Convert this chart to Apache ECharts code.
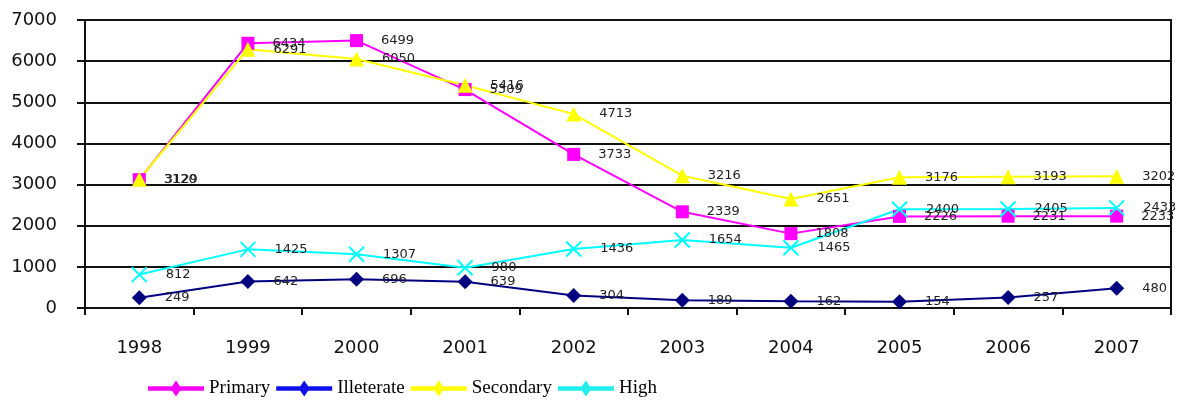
<!DOCTYPE html>
<html>
<head>
<meta charset="utf-8">
<style>
  html, body { margin: 0; padding: 0; background: #fff; }
  #chart { width: 1179px; height: 403px; }
</style>
<script src="https://cdn.jsdelivr.net/npm/echarts@6/dist/echarts.min.js"></script>
</head>
<body>
<div id="chart"></div>
<script>
// Years on the category axis
const years = ['1998', '1999', '2000', '2001', '2002', '2003', '2004', '2005', '2006', '2007'];

// Counts per education level
const primary    = [3120, 6434, 6499, 5309, 3733, 2339, 1808, 2226, 2231, 2233];
const illeterate = [249, 642, 696, 639, 304, 189, 162, 154, 257, 480];
const secondary  = [3129, 6291, 6050, 5416, 4713, 3216, 2651, 3176, 3193, 3202];
const high       = [812, 1425, 1307, 980, 1436, 1654, 1465, 2400, 2405, 2433];

// Value axis ticks
const yMin = 0, yMax = 7000, yStep = 1000;

// Legend icon: a thick line with a diamond in the middle
const legendIcon = 'path://M0,5.8H56V10.2H0Z M28,0L33.5,8L28,16L22.5,8Z';
const crossSymbol = 'path://M0,0L10,10M10,0L0,10';

const chart = echarts.init(document.getElementById('chart'), null, { renderer: 'canvas' });

const labelStyle = {
  show: true,
  position: 'right',
  distance: 18,
  fontFamily: 'DejaVu Sans',
  fontSize: 13,
  color: '#222'
};

function lineSeries(name, data, color, symbol, size, extraItemStyle) {
  return {
    name: name,
    type: 'line',
    data: data,
    symbol: symbol,
    symbolSize: size,
    showAllSymbol: true,
    lineStyle: { color: color, width: 2 },
    itemStyle: Object.assign({ color: color }, extraItemStyle || {}),
    label: labelStyle,
    emphasis: { disabled: true },
    animation: false
  };
}

chart.setOption({
  backgroundColor: '#fff',
  animation: false,
  grid: {
    left: 85, right: 8, top: 20, bottom: 95,
    show: true, borderColor: '#111', borderWidth: 2, backgroundColor: 'transparent'
  },
  legend: {
    left: 143, top: 374,
    itemWidth: 56, itemHeight: 18, itemGap: 6,
    icon: legendIcon,
    textStyle: { fontFamily: 'Liberation Serif', fontSize: 19, color: '#000' },
    data: [
      { name: 'Primary' },
      { name: 'Illeterate', itemStyle: { color: '#1010ee' } },
      { name: 'Secondary' },
      { name: 'High', itemStyle: { color: '#22eeee', borderWidth: 0 } }
    ]
  },
  xAxis: {
    type: 'category',
    data: years,
    boundaryGap: true,
    axisLine: { show: true, lineStyle: { color: '#111', width: 2 } },
    axisTick: { show: true, length: 7, lineStyle: { color: '#111', width: 2 } },
    axisLabel: { margin: 31, fontFamily: 'DejaVu Sans', fontSize: 18, color: '#111' },
    splitLine: { show: false }
  },
  yAxis: {
    type: 'value',
    min: yMin, max: yMax, interval: yStep,
    axisLine: { show: true, lineStyle: { color: '#111', width: 2 } },
    axisTick: { show: true, length: 8, lineStyle: { color: '#111', width: 2 } },
    axisLabel: {
      margin: 28, fontFamily: 'DejaVu Sans', fontSize: 18, color: '#111',
      formatter: function (v) { return String(v); }
    },
    splitLine: { show: true, lineStyle: { color: '#111', width: 2 } }
  },
  series: [
    lineSeries('Primary', primary, '#ff00ff', 'rect', 13),
    lineSeries('Illeterate', illeterate, '#000080', 'diamond', 15),
    lineSeries('Secondary', secondary, '#ffff00', 'triangle', 15),
    lineSeries('High', high, '#00ffff', crossSymbol, 15, { borderColor: '#00ffff', borderWidth: 2 })
  ]
});
</script>
</body>
</html>
